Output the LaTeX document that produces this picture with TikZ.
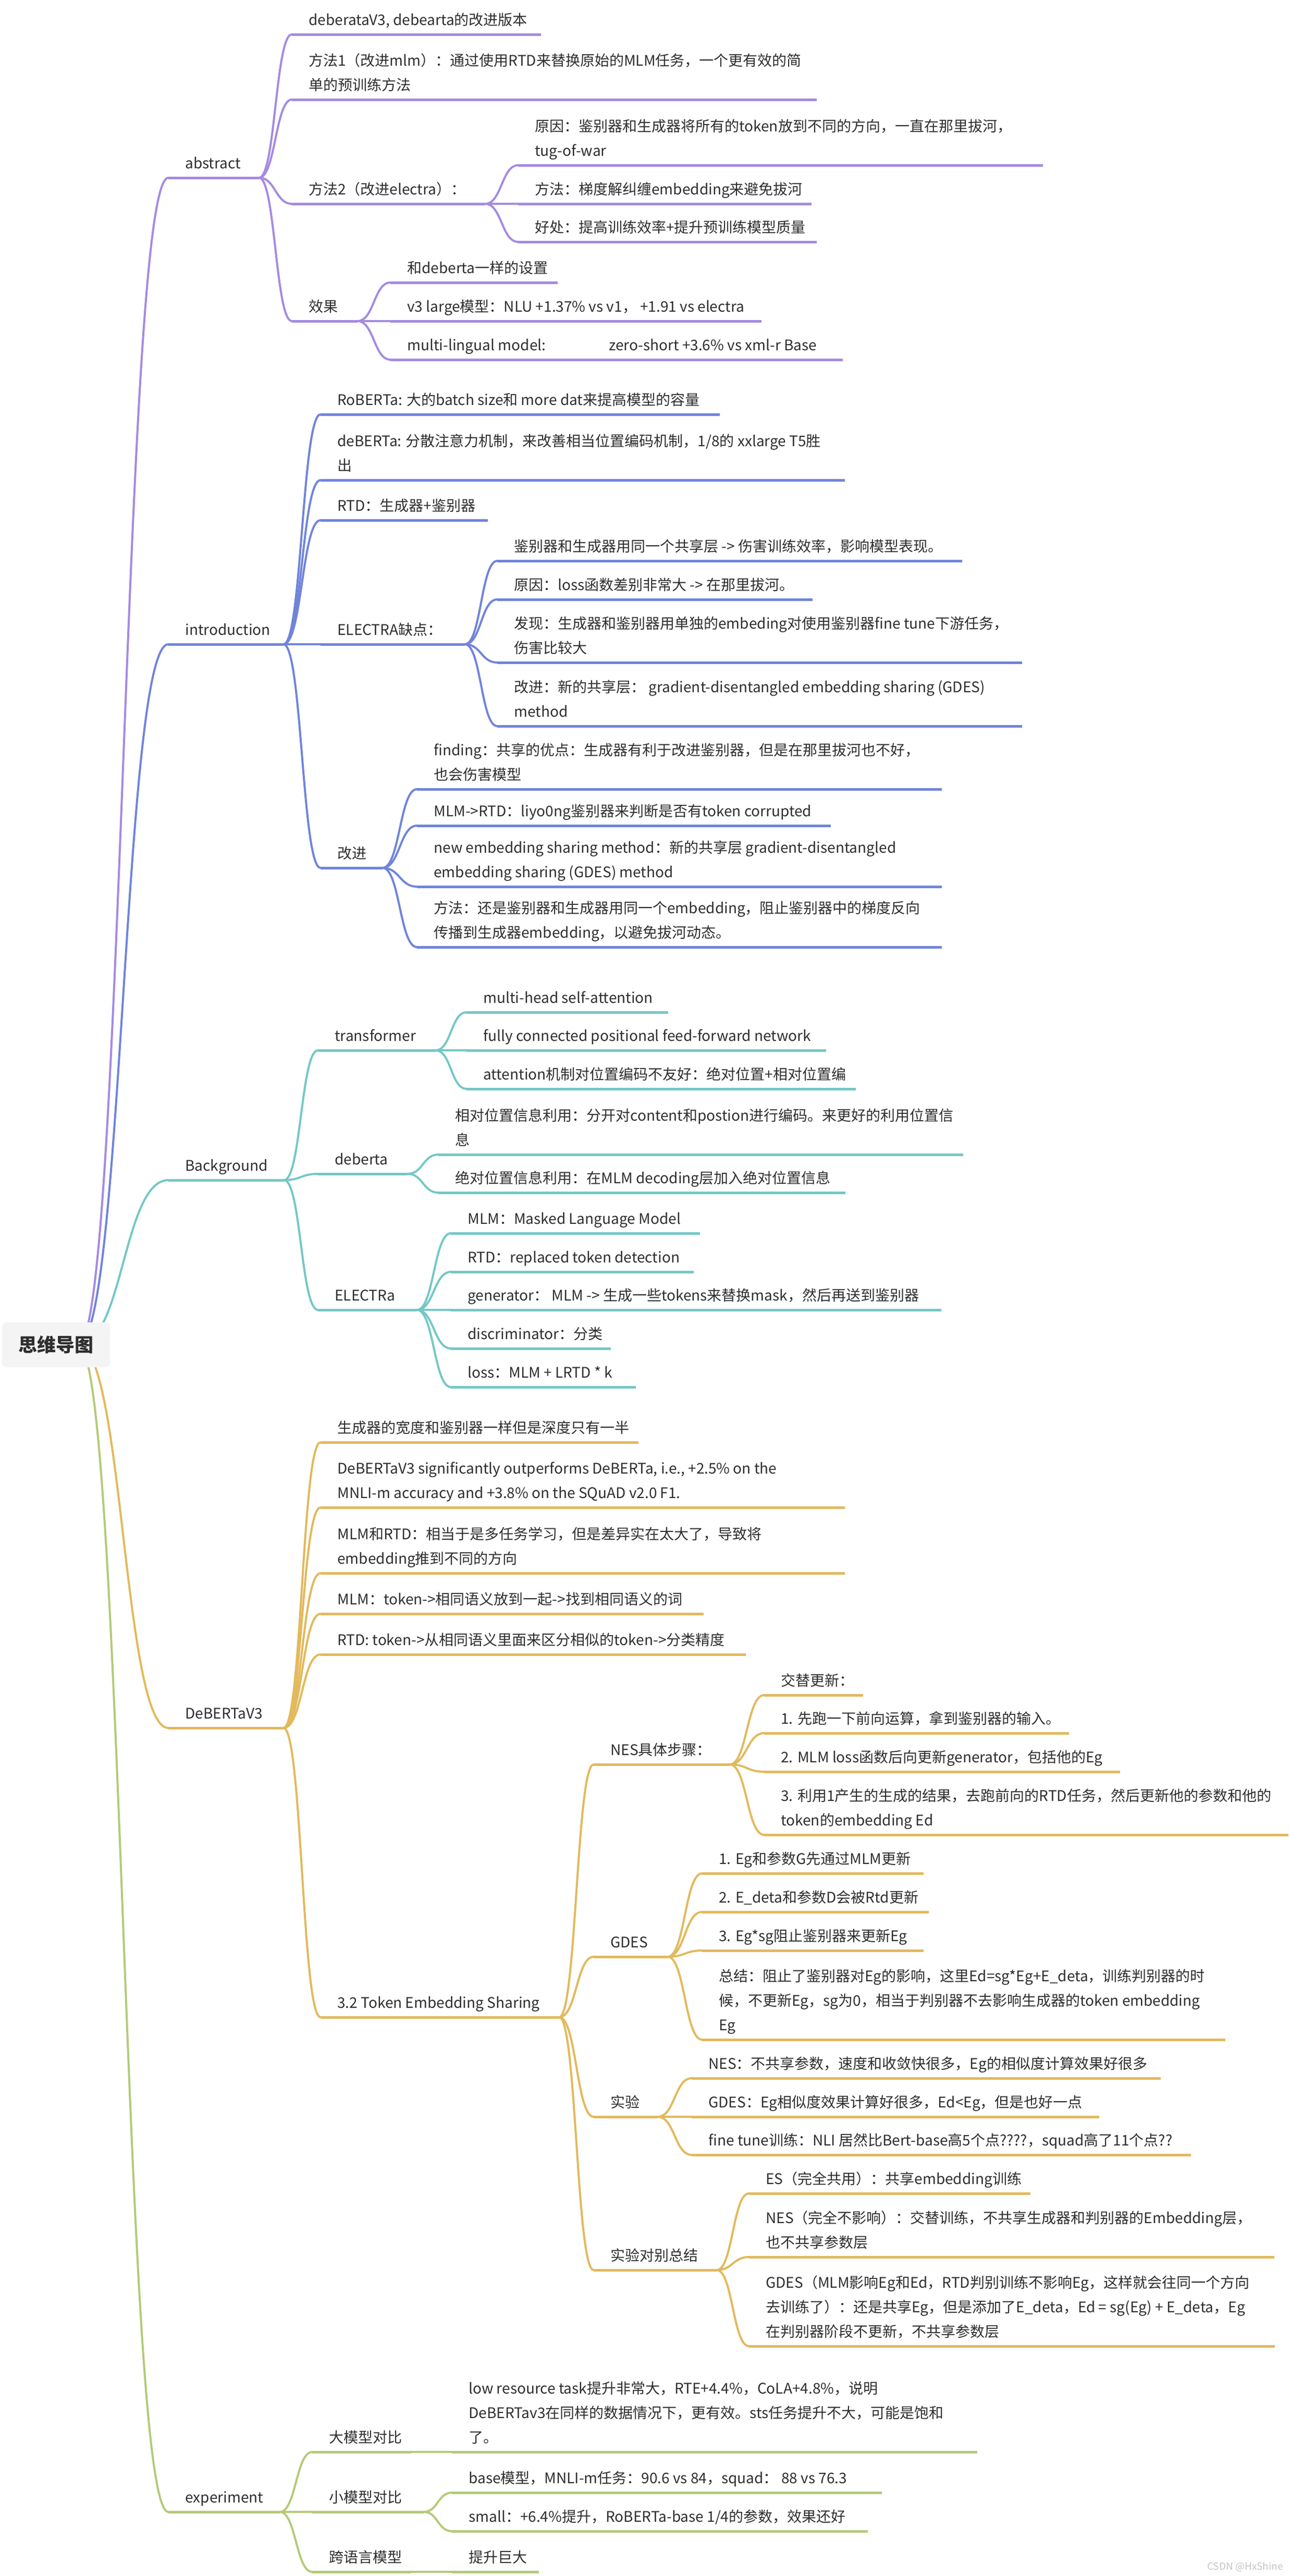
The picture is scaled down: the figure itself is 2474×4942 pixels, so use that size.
\documentclass[tikz,border=0pt]{standalone}
\usepackage{fontspec}
\setmainfont{Noto Sans CJK SC}
\usetikzlibrary{calc}
\definecolor{cP}{HTML}{A48AE3}
\definecolor{cB}{HTML}{7084DB}
\definecolor{cT}{HTML}{73C8C6}
\definecolor{cG}{HTML}{E2B95C}
\definecolor{cL}{HTML}{B5CA78}
\definecolor{txtc}{HTML}{2E2E2E}
\definecolor{rootfill}{HTML}{F4F4F4}
\definecolor{wmc}{HTML}{C4C4C4}
\tikzset{
  ul/.style={line width=2.5pt},
  cn/.style={line width=2pt},
  txt/.style={inner sep=0pt, text=txtc, font=\fontsize{14}{23.5}\selectfont},
  rootbox/.style={fill=rootfill, rounded corners=4pt, minimum width=103.5pt, minimum height=43pt, inner sep=0pt, text=txtc, font=\fontsize{18}{20}\selectfont\bfseries},
  wm/.style={inner sep=0pt, text=wmc, font=\fontsize{9.5}{11}\selectfont}
}
\newcommand\mmtext[1]{\begin{tabular}[t]{@{}l@{}}#1\end{tabular}}
\newcommand\mmitem[7]{%
  \coordinate (#1-l) at ({#3-32},#4);
  \coordinate (#1-r) at (#5,#4);
  \draw[ul,#2] (#1-l) -- (#1-r);
  \node[txt,anchor=base west] (#1) at (#3,{#4-18-(#6-1)*47}) {\mmtext{#7}};
}
\newcommand\mmconn[3]{%
  \draw[cn,#1] let \p1=(#2-r), \p2=(#3-l) in (\p1) .. controls ({(\x1+\x2)/2},\y1) and ({(\x1+\x2)/2},\y2) .. (\p2);
}
\begin{document}
\begin{tikzpicture}[x=0.5pt,y=-0.5pt]
\useasboundingbox (0,0) rectangle (2474,4942);
\fill[white] (0,0) rectangle (2474,4942);
\coordinate (root-r) at (150,2580);

% ---------- abstract ----------
\mmitem{abs}{cP}{355}{341}{497}{1}{abstract}
\mmitem{a1}{cP}{592}{66}{1038}{1}{deberataV3, debearta的改进版本}
\mmitem{a2}{cP}{592}{191}{1567}{2}{方法1（改进mlm）：通过使用RTD来替换原始的MLM任务，一个更有效的简\\单的预训练方法}
\mmitem{a3}{cP}{592}{391}{931}{1}{方法2（改进electra）：}
\mmitem{a31}{cP}{1026}{317}{2001}{2}{原因：鉴别器和生成器将所有的token放到不同的方向，一直在那里拔河，\\tug-of-war}
\mmitem{a32}{cP}{1026}{391}{1557}{1}{方法：梯度解纠缠embedding来避免拔河}
\mmitem{a33}{cP}{1026}{464}{1567}{1}{好处：提高训练效率+提升预训练模型质量}
\mmitem{a4}{cP}{592}{616}{686}{1}{效果}
\mmitem{a41}{cP}{781}{542}{1070}{1}{和deberta一样的设置}
\mmitem{a42}{cP}{781}{616}{1461}{1}{v3 large模型：NLU +1.37\% vs v1，\ +1.91 vs electra}
\mmitem{a43}{cP}{781}{690}{1617}{1}{\makebox[193.5pt][l]{multi-lingual model:}zero-short +3.6\% vs xml-r Base}
\mmconn{cP}{root}{abs}
\foreach \c in {a1,a2,a3,a4} {\mmconn{cP}{abs}{\c}}
\foreach \c in {a31,a32,a33} {\mmconn{cP}{a3}{\c}}
\foreach \c in {a41,a42,a43} {\mmconn{cP}{a4}{\c}}

% ---------- introduction ----------
\mmitem{int}{cB}{355}{1236}{544}{1}{introduction}
\mmitem{i1}{cB}{647}{795}{1381}{1}{RoBERTa: 大的batch size和 more dat来提高模型的容量}
\mmitem{i2}{cB}{647}{921}{1621}{2}{deBERTa: 分散注意力机制，来改善相当位置编码机制，1/8的 xxlarge T5胜\\出}
\mmitem{i3}{cB}{647}{998}{936}{1}{RTD：生成器+鉴别器}
\mmitem{i4}{cB}{647}{1236}{892}{1}{ELECTRA缺点：}
\mmitem{i41}{cB}{986}{1076}{1846}{1}{鉴别器和生成器用同一个共享层 -> 伤害训练效率，影响模型表现。}
\mmitem{i42}{cB}{986}{1150}{1559}{1}{原因：loss函数差别非常大 -> 在那里拔河。}
\mmitem{i43}{cB}{986}{1271}{1961}{2}{发现：生成器和鉴别器用单独的embeding对使用鉴别器fine tune下游任务，\\伤害比较大}
\mmitem{i44}{cB}{986}{1393}{1961}{2}{改进：新的共享层：\ gradient-disentangled embedding sharing (GDES)\\method}
\mmitem{i5}{cB}{647}{1665}{734}{1}{改进}
\mmitem{i51}{cB}{832}{1514}{1807}{2}{finding：共享的优点：生成器有利于改进鉴别器，但是在那里拔河也不好，\\也会伤害模型}
\mmitem{i52}{cB}{832}{1584}{1594}{1}{MLM->RTD：liyo0ng鉴别器来判断是否有token corrupted}
\mmitem{i53}{cB}{832}{1701}{1807}{2}{new embedding sharing method：新的共享层 gradient-disentangled\\embedding sharing (GDES) method}
\mmitem{i54}{cB}{832}{1817}{1807}{2}{方法：还是鉴别器和生成器用同一个embedding，阻止鉴别器中的梯度反向\\传播到生成器embedding，以避免拔河动态。}
\mmconn{cB}{root}{int}
\foreach \c in {i1,i2,i3,i4,i5} {\mmconn{cB}{int}{\c}}
\foreach \c in {i41,i42,i43,i44} {\mmconn{cB}{i4}{\c}}
\foreach \c in {i51,i52,i53,i54} {\mmconn{cB}{i5}{\c}}

% ---------- Background ----------
\mmitem{bg}{cT}{355}{2264}{545}{1}{Background}
\mmitem{b1}{cT}{642}{2015}{836}{1}{transformer}
\mmitem{b11}{cT}{927}{1942}{1282}{1}{multi-head self-attention}
\mmitem{b12}{cT}{927}{2015}{1585}{1}{fully connected positional feed-forward network}
\mmitem{b13}{cT}{927}{2089}{1642}{1}{attention机制对位置编码不友好：绝对位置+相对位置编}
\mmitem{b2}{cT}{642}{2252}{782}{1}{deberta}
\mmitem{b21}{cT}{873}{2215}{1848}{2}{相对位置信息利用：分开对content和postion进行编码。来更好的利用位置信\\息}
\mmitem{b22}{cT}{873}{2288}{1622}{1}{绝对位置信息利用：在MLM decoding层加入绝对位置信息}
\mmitem{b3}{cT}{642}{2513}{800}{1}{ELECTRa}
\mmitem{b31}{cT}{897}{2366}{1343}{1}{MLM：Masked Language Model}
\mmitem{b32}{cT}{897}{2440}{1331}{1}{RTD：replaced token detection}
\mmitem{b33}{cT}{897}{2513}{1806}{1}{generator：\ MLM -> 生成一些tokens来替换mask，然后再送到鉴别器}
\mmitem{b34}{cT}{897}{2587}{1172}{1}{discriminator：分类}
\mmitem{b35}{cT}{897}{2661}{1220}{1}{loss：MLM + LRTD * k}
\mmconn{cT}{root}{bg}
\foreach \c in {b1,b2,b3} {\mmconn{cT}{bg}{\c}}
\foreach \c in {b11,b12,b13} {\mmconn{cT}{b1}{\c}}
\foreach \c in {b21,b22} {\mmconn{cT}{b2}{\c}}
\foreach \c in {b31,b32,b33,b34,b35} {\mmconn{cT}{b3}{\c}}

% ---------- DeBERTaV3 ----------
\mmitem{dv}{cG}{355}{3315}{544}{1}{DeBERTaV3}
\mmitem{d1}{cG}{647}{2767}{1225}{1}{生成器的宽度和鉴别器一样但是深度只有一半}
\mmitem{d2}{cG}{647}{2892}{1621}{2}{DeBERTaV3 significantly outperforms DeBERTa, i.e., +2.5\% on the\\MNLI-m accuracy and +3.8\% on the SQuAD v2.0 F1.}
\mmitem{d3}{cG}{647}{3018}{1621}{2}{MLM和RTD：相当于是多任务学习，但是差异实在太大了，导致将\\embedding推到不同的方向}
\mmitem{d4}{cG}{647}{3096}{1350}{1}{MLM：token->相同语义放到一起->找到相同语义的词}
\mmitem{d5}{cG}{647}{3174}{1431}{1}{RTD: token->从相同语义里面来区分相似的token->分类精度}
\mmitem{d6}{cG}{647}{3870}{1073}{1}{3.2 Token Embedding Sharing}
\mmitem{d61}{cG}{1171}{3385}{1400}{1}{NES具体步骤：}
\mmitem{d611}{cG}{1498}{3252}{1656}{1}{交替更新：}
\mmitem{d612}{cG}{1498}{3325}{2051}{1}{1. 先跑一下前向运算，拿到鉴别器的输入。}
\mmitem{d613}{cG}{1498}{3399}{2149}{1}{2. MLM loss函数后向更新generator，包括他的Eg}
\mmitem{d614}{cG}{1498}{3520}{2472}{2}{3. 利用1产生的生成的结果，去跑前向的RTD任务，然后更新他的参数和他的\\token的embedding Ed}
\mmitem{d62}{cG}{1171}{3754}{1281}{1}{GDES}
\mmitem{d621}{cG}{1379}{3594}{1772}{1}{1. Eg和参数G先通过MLM更新}
\mmitem{d622}{cG}{1379}{3668}{1782}{1}{2. E\_deta和参数D会被Rtd更新}
\mmitem{d623}{cG}{1379}{3742}{1772}{1}{3. Eg*sg阻止鉴别器来更新Eg}
\mmitem{d624}{cG}{1379}{3913}{2351}{3}{总结：阻止了鉴别器对Eg的影响，这里Ed=sg*Eg+E\_deta，训练判别器的时\\候，不更新Eg，sg为0，相当于判别器不去影响生成器的token embedding\\Eg}
\mmitem{d63}{cG}{1171}{4061}{1262}{1}{实验}
\mmitem{d631}{cG}{1359}{3987}{2227}{1}{NES：不共享参数，速度和收敛快很多，Eg的相似度计算效果好很多}
\mmitem{d632}{cG}{1359}{4061}{2109}{1}{GDES：Eg相似度效果计算好很多，Ed<Eg，但是也好一点}
\mmitem{d633}{cG}{1359}{4134}{2285}{1}{fine tune训练：NLI 居然比Bert-base高5个点????，squad高了11个点??}
\mmitem{d64}{cG}{1171}{4355}{1375}{1}{实验对别总结}
\mmitem{d641}{cG}{1469}{4208}{1977}{1}{ES（完全共用）：共享embedding训练}
\mmitem{d642}{cG}{1469}{4330}{2445}{2}{NES（完全不影响）：交替训练，不共享生成器和判别器的Embedding层，\\也不共享参数层}
\mmitem{d643}{cG}{1469}{4501}{2446}{3}{GDES（MLM影响Eg和Ed，RTD判别训练不影响Eg，这样就会往同一个方向\\去训练了）：还是共享Eg，但是添加了E\_deta，Ed = sg(Eg) + E\_deta，Eg\\在判别器阶段不更新，不共享参数层}
\mmconn{cG}{root}{dv}
\foreach \c in {d1,d2,d3,d4,d5,d6} {\mmconn{cG}{dv}{\c}}
\foreach \c in {d61,d62,d63,d64} {\mmconn{cG}{d6}{\c}}
\foreach \c in {d611,d612,d613,d614} {\mmconn{cG}{d61}{\c}}
\foreach \c in {d621,d622,d623,d624} {\mmconn{cG}{d62}{\c}}
\foreach \c in {d631,d632,d633} {\mmconn{cG}{d63}{\c}}
\foreach \c in {d641,d642,d643} {\mmconn{cG}{d64}{\c}}

% ---------- experiment ----------
\mmitem{ex}{cL}{355}{4819}{537}{1}{experiment}
\mmitem{e1}{cL}{631}{4704}{789}{1}{大模型对比}
\mmitem{e11}{cL}{899}{4704}{1875}{3}{low resource task提升非常大，RTE+4.4\%，CoLA+4.8\%，说明\\DeBERTav3在同样的数据情况下，更有效。sts任务提升不大，可能是饱和\\了。}
\mmitem{e2}{cL}{631}{4819}{813}{1}{小模型对比}
\mmitem{e21}{cL}{899}{4782}{1692}{1}{base模型，MNLI-m任务：90.6 vs 84，squad：\ 88 vs 76.3}
\mmitem{e22}{cL}{899}{4856}{1665}{1}{small：+6.4\%提升，RoBERTa-base 1/4的参数，效果还好}
\mmitem{e3}{cL}{631}{4934}{789}{1}{跨语言模型}
\mmitem{e31}{cL}{899}{4934}{1034}{1}{提升巨大}
\mmconn{cL}{root}{ex}
\foreach \c in {e1,e2,e3} {\mmconn{cL}{ex}{\c}}
\mmconn{cL}{e1}{e11}
\foreach \c in {e21,e22} {\mmconn{cL}{e2}{\c}}
\mmconn{cL}{e3}{e31}

% ---------- root ----------
\node[rootbox] (root) at (107.5,2580) {思维导图};
\node[wm,anchor=east] (wmark) at (2462,4925) {CSDN @HxShine};
\end{tikzpicture}
\end{document}
